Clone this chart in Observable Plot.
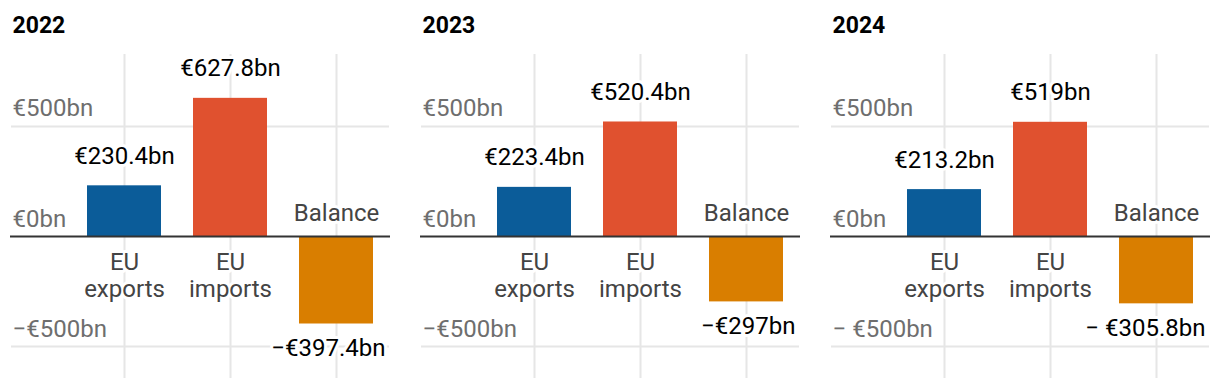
<!DOCTYPE html>
<html>
<head>
<meta charset="utf-8">
<script src="https://cdn.jsdelivr.net/npm/d3@7"></script>
<script src="https://cdn.jsdelivr.net/npm/@observablehq/plot@0.6"></script>
<style>
  html, body { margin: 0; padding: 0; background: #fff; }
  #chart svg { display: block; font-family: Roboto, "Noto Sans", sans-serif; }
</style>
</head>
<body>
<div id="chart"></div>
<script>
const years = ["2022", "2023", "2024"];
const categories = ["EU exports", "EU imports", "Balance"];
const categoryLabels = ["EU\nexports", "EU\nimports", "Balance"];
const colors = ["#0b5c99", "#e0512f", "#d97e00"];

const exportsValues = [230.4, 223.4, 213.2];
const importsValues = [627.8, 520.4, 519];
const balanceValues = [-397.4, -297, -305.8];

const exportsLabels = ["€230.4bn", "€223.4bn", "€213.2bn"];
const importsLabels = ["€627.8bn", "€520.4bn", "€519bn"];
const balanceLabels = ["−€397.4bn", "−€297bn", "− €305.8bn"];

const tickValues = [500, 0, -500];
const tickLabels2022 = ["€500bn", "€0bn", "−€500bn"];
const tickLabels2023 = ["€500bn", "€0bn", "−€500bn"];
const tickLabels2024 = ["€500bn", "€0bn", "− €500bn"];

// Build tables
const seriesValues = [exportsValues, importsValues, balanceValues];
const seriesLabels = [exportsLabels, importsLabels, balanceLabels];
const data = [];
years.forEach((yr, yi) => {
  categories.forEach((c, ci) => {
    data.push({year: yr, cat: c, catLabel: categoryLabels[ci], value: seriesValues[ci][yi], label: seriesLabels[ci][yi], color: colors[ci]});
  });
});
const tickLabelSets = [tickLabels2022, tickLabels2023, tickLabels2024];
const ticks = [];
years.forEach((yr, yi) => tickValues.forEach((v, ti) => ticks.push({year: yr, value: v, label: tickLabelSets[yi][ti]})));

const pos = data.filter(d => d.value >= 0);
const neg = data.filter(d => d.value < 0);

const chart = Plot.plot({
  width: 1220,
  height: 390,
  marginTop: 54,
  marginBottom: 12,
  marginLeft: 71,
  marginRight: 11,
  fx: {domain: years, axis: null, paddingInner: 0.2244, paddingOuter: 0},
  x: {domain: categories, axis: null, paddingInner: 0.3, paddingOuter: 0.15},
  y: {domain: [-645, 827], axis: null},
  style: {fontFamily: "Roboto, 'Noto Sans', sans-serif", background: "white"},
  marks: [
    Plot.ruleY(tickValues.filter(v => v !== 0), {stroke: "#e6e6e6", strokeWidth: 2, insetLeft: -60}),
    Plot.ruleX(categories, {x: d => d, stroke: "#e6e6e6", strokeWidth: 2}),
    Plot.barY(data, {fx: "year", x: "cat", y: "value", fill: "color"}),
    Plot.ruleY([0], {stroke: "#333", strokeWidth: 2, insetLeft: -61, insetRight: -1}),
    Plot.text(ticks, {fx: "year", y: "value", text: "label", frameAnchor: "left", textAnchor: "start", lineAnchor: "bottom", dx: -59, dy: -10, fill: "#6e6e6e", fontSize: 24}),
    Plot.text(years, {fx: d => d, text: d => d, frameAnchor: "top-left", textAnchor: "start", lineAnchor: "bottom", dx: -59, dy: -22, fill: "#000", fontSize: 23, fontWeight: "bold"}),
    Plot.text(pos, {fx: "year", x: "cat", y: "value", text: "label", lineAnchor: "bottom", dy: -22, fill: "#000", stroke: "white", strokeWidth: 6, fontSize: 24}),
    Plot.text(neg, {fx: "year", x: "cat", y: "value", text: "label", lineAnchor: "top", textAnchor: "end", dx: 49, dy: 15, fill: "#000", stroke: "white", strokeWidth: 6, fontSize: 24}),
    Plot.text(pos, {fx: "year", x: "cat", y: () => 0, text: "catLabel", lineAnchor: "top", dy: 14, lineHeight: 1.13, fill: "#444", stroke: "white", strokeWidth: 6, fontSize: 24}),
    Plot.text(neg, {fx: "year", x: "cat", y: () => 0, text: "catLabel", lineAnchor: "bottom", dy: -16, fill: "#444", stroke: "white", strokeWidth: 6, fontSize: 24})
  ]
});
document.getElementById("chart").appendChild(chart);
</script>
</body>
</html>
